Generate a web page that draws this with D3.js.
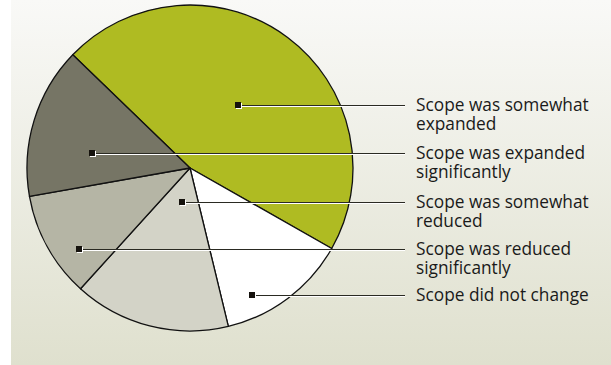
<!DOCTYPE html>
<html>
<head>
<meta charset="utf-8">
<script src="https://cdn.jsdelivr.net/npm/d3@7"></script>
<style>
  html, body { margin: 0; padding: 0; background: #ffffff; }
  svg { display: block; }
</style>
</head>
<body>
<svg id="chart" width="611" height="365"></svg>
<script>
// Survey answers about project scope, in clockwise drawing order
const categories = [
  "Scope was somewhat expanded",
  "Scope did not change",
  "Scope was somewhat reduced",
  "Scope was reduced significantly",
  "Scope was expanded significantly"
];
const shares = [46, 13, 15.5, 10.5, 15];
const sliceColors = ["#afbb22", "#ffffff", "#d3d3c7", "#b5b5a5", "#767565"];

// Label text, top to bottom, with the slice each one points at
const labelLines = [
  ["Scope was somewhat", "expanded"],
  ["Scope was expanded", "significantly"],
  ["Scope was somewhat", "reduced"],
  ["Scope was reduced", "significantly"],
  ["Scope did not change"]
];
const labelSlice = [0, 4, 2, 3, 1];
// where each leader's marker sits inside its slice (radius fraction, angle in degrees clockwise from 12 o'clock)
const markerPlace = [
  [0.486, 37.3],
  [0.608, 278.7],
  [0.214, 193.2],
  [0.843, 233.9],
  [0.867, 154.0]
];

const width = 611, height = 365;
const cx = 190, cy = 168, radius = 163;
const svg = d3.select("#chart");

// panel background
const defs = svg.append("defs");
const grad = defs.append("linearGradient")
  .attr("id", "panelGrad").attr("x1", 0).attr("y1", 0).attr("x2", 0).attr("y2", 1);
grad.append("stop").attr("offset", "0%").attr("stop-color", "#f9f9f7");
grad.append("stop").attr("offset", "100%").attr("stop-color", "#dfe0ce");
svg.append("rect")
  .attr("x", 11).attr("y", 0).attr("width", width - 11).attr("height", height)
  .attr("fill", "url(#panelGrad)");

const deg = Math.PI / 180;
const start = -46 * deg;
const pie = d3.pie().sort(null).value(d => d)
  .startAngle(start).endAngle(start + 2 * Math.PI);
const arcs = pie(shares);
const arc = d3.arc().innerRadius(0).outerRadius(radius);

const g = svg.append("g").attr("transform", `translate(${cx},${cy})`);
g.selectAll("path.slice")
  .data(arcs)
  .join("path")
  .attr("class", "slice")
  .attr("d", arc)
  .attr("fill", (d, i) => sliceColors[i])
  .attr("stroke", "#111")
  .attr("stroke-width", 1.3)
  .attr("stroke-linejoin", "round");

// leaders and labels
const lineEnd = 405;
const textX = 416;
const font = "'Open Sans', 'Noto Sans', sans-serif";

labelLines.forEach((lines, i) => {
  const [rf, a] = markerPlace[i];
  const mx = Math.round(cx + Math.sin(a * deg) * radius * rf);
  const my = Math.round(cy - Math.cos(a * deg) * radius * rf);

  // light under-stroke then dark leader
  svg.append("line")
    .attr("x1", mx).attr("x2", lineEnd)
    .attr("y1", my + 1.5).attr("y2", my + 1.5)
    .attr("stroke", "#ffffff").attr("stroke-width", 1);
  svg.append("line")
    .attr("x1", mx).attr("x2", lineEnd)
    .attr("y1", my + 0.5).attr("y2", my + 0.5)
    .attr("stroke", "#2a2a22").attr("stroke-width", 1);

  // marker square with a white edge
  svg.append("rect")
    .attr("x", mx - 2).attr("y", my - 2)
    .attr("width", 6).attr("height", 6).attr("fill", "#ffffff");
  svg.append("rect")
    .attr("x", mx - 3).attr("y", my - 3)
    .attr("width", 6).attr("height", 6).attr("fill", "#15120d");

  const t = svg.append("text")
    .attr("x", textX).attr("y", my + 6)
    .attr("font-family", font)
    .attr("font-size", 17.3)
    .attr("fill", "#1a1a1a");
  lines.forEach((s, k) => {
    t.append("tspan").attr("x", textX).attr("dy", k === 0 ? 0 : 18.5).text(s);
  });
});
</script>
</body>
</html>
